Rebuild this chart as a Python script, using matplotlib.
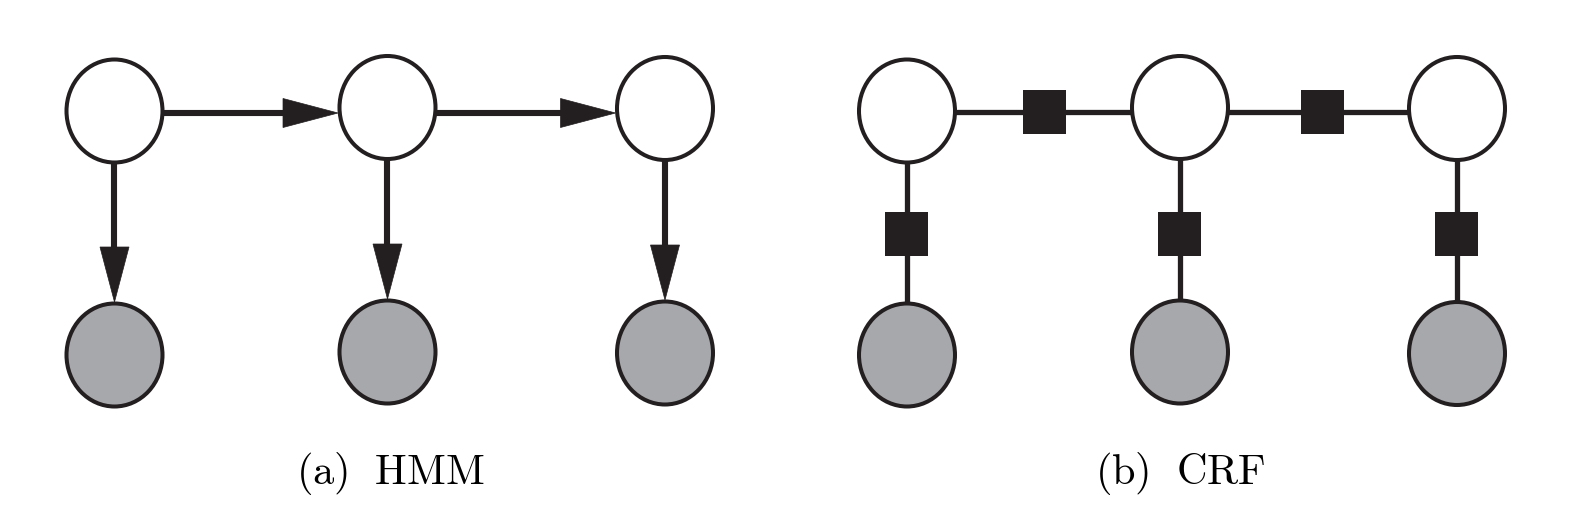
import numpy as np
import matplotlib
matplotlib.use("Agg")
import matplotlib.pyplot as plt
from matplotlib.patches import Ellipse, Rectangle, Polygon

plt.rcParams['mathtext.fontset'] = 'cm'

# node centres (pixel coords, y grows downwards)
hmm_x = [114.5, 387.5, 665.0]
hmm_top_y = [111.0, 107.5, 108.5]
hmm_bot_y = [355.0, 352.0, 353.0]
crf_x = [907.0, 1180.0, 1457.0]
crf_top_y = [111.0, 107.5, 108.5]
crf_bot_y = [355.0, 352.0, 353.5]
# factor squares in the CRF
crf_hfac_x = [1045.0, 1322.5]
crf_vfac_y = [233.5, 233.5, 233.5]
labels = [r'$\mathrm{(a)\ \ HMM}$', r'$\mathrm{(b)\ \ CRF}$']
label_x = [390, 1180]

EDGE = '#231f20'
GRAY = '#a7a8ab'
RX, RY = 48.0, 51.5      # ellipse half axes (stroke centre)
NODE_LW = 2.9
ROW_Y = 113.0            # y of horizontal links
HL, HW = 55.0, 14.5      # arrow head length / half width

fig = plt.figure(figsize=(15.76, 5.18), dpi=100)
ax = fig.add_axes([0, 0, 1, 1])
ax.set_xlim(0, 1576)
ax.set_ylim(518, 0)
ax.axis('off')


def node(x, y, fill):
    ax.add_patch(Ellipse((x, y), 2 * RX, 2 * RY, facecolor=fill,
                         edgecolor=EDGE, lw=NODE_LW, zorder=3))


def arrow(x0, y0, x1, y1):
    d = np.array([x1 - x0, y1 - y0], dtype=float)
    L = np.hypot(*d)
    u = d / L
    n = np.array([-u[1], u[0]])
    base = np.array([x1, y1]) - u * HL
    ax.plot([x0, base[0] + u[0] * 2], [y0, base[1] + u[1] * 2],
            color=EDGE, lw=4.4, solid_capstyle='butt', zorder=2)
    pts = [[x1, y1], base + n * HW, base - n * HW]
    ax.add_patch(Polygon(pts, closed=True, facecolor=EDGE,
                         edgecolor=EDGE, lw=0.5, zorder=4))


def factor(x, y):
    ax.add_patch(Rectangle((x - 21.5, y - 22), 43, 44, facecolor=EDGE,
                           edgecolor='none', zorder=4))


# (a) HMM
for i in range(3):
    node(hmm_x[i], hmm_top_y[i], 'white')
    node(hmm_x[i], hmm_bot_y[i], GRAY)
    arrow(hmm_x[i], hmm_top_y[i] + RY, hmm_x[i], hmm_bot_y[i] - RY - 1.5)
for i in range(2):
    arrow(hmm_x[i] + RX, ROW_Y, hmm_x[i + 1] - RX - 1.5, ROW_Y)

# (b) CRF
for i in range(3):
    node(crf_x[i], crf_top_y[i], 'white')
    node(crf_x[i], crf_bot_y[i], GRAY)
    ax.plot([crf_x[i], crf_x[i]], [crf_top_y[i], crf_bot_y[i]],
            color=EDGE, lw=3.8, zorder=1)
    factor(crf_x[i], crf_vfac_y[i])
ax.plot([crf_x[0], crf_x[-1]], [ROW_Y - 1, ROW_Y - 1], color=EDGE, lw=3.8, zorder=1)
for x in crf_hfac_x:
    factor(x, ROW_Y - 1)

for s, x in zip(labels, label_x):
    ax.text(x, 484, s, fontsize=30.5, ha='center', va='baseline', color='black')

fig.savefig('out.png', dpi=100)
